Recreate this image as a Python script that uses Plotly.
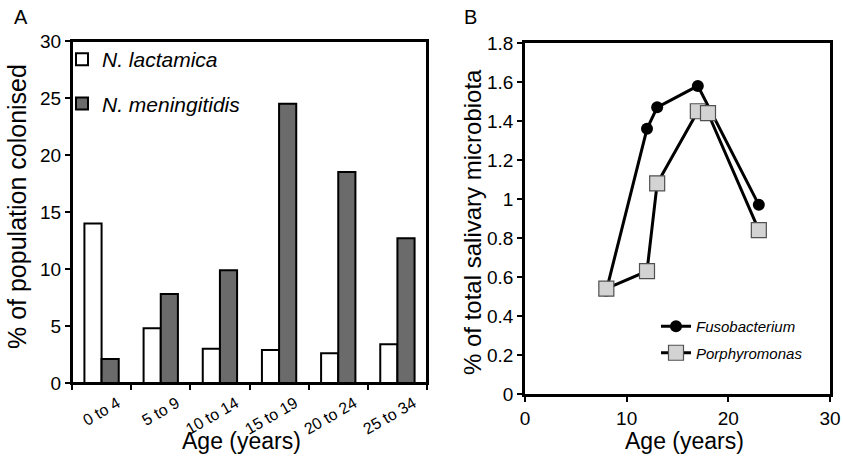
import plotly.graph_objects as go

# ---- Panel A data ----
age_groups = ["0 to 4", "5 to 9", "10 to 14", "15 to 19", "20 to 24", "25 to 34"]
lactamica = [14.0, 4.8, 3.0, 2.9, 2.6, 3.4]
meningitidis = [2.1, 7.8, 9.9, 24.5, 18.5, 12.7]

# ---- Panel B data ----
fuso_age = [8, 12, 13, 17, 23]
fuso_val = [0.53, 1.36, 1.47, 1.58, 0.97]
porph_age = [8, 12, 13, 17, 18, 23]
porph_val = [0.54, 0.63, 1.08, 1.45, 1.44, 0.84]

y_ticks_a = [0, 5, 10, 15, 20, 25, 30]
x_ticks_b = [0, 10, 20, 30]
y_ticks_b = [0, 0.2, 0.4, 0.6, 0.8, 1, 1.2, 1.4, 1.6, 1.8]

FONT = "Liberation Sans, Arial, sans-serif"
W, H = 843, 456

fig = go.Figure()

fig.add_trace(go.Bar(
    x=age_groups, y=lactamica, name="N. lactamica",
    marker=dict(color="white", line=dict(color="black", width=2)),
    xaxis="x", yaxis="y", legend="legend", legendgroup="a1"))
fig.add_trace(go.Bar(
    x=age_groups, y=meningitidis, name="N. meningitidis",
    marker=dict(color="#6b6b6b", line=dict(color="black", width=2)),
    xaxis="x", yaxis="y", legend="legend", legendgroup="a2"))

fig.add_trace(go.Scatter(
    x=fuso_age, y=fuso_val, name="Fusobacterium", mode="lines+markers",
    line=dict(color="black", width=3),
    marker=dict(symbol="circle", size=12, color="black"),
    xaxis="x2", yaxis="y2", legend="legend2", legendgroup="b1"))
fig.add_trace(go.Scatter(
    x=porph_age, y=porph_val, name="Porphyromonas", mode="lines+markers",
    line=dict(color="black", width=3),
    marker=dict(symbol="square", size=15, color="#d3d3d3",
                line=dict(color="#505050", width=1.2)),
    xaxis="x2", yaxis="y2", legend="legend2", legendgroup="b2"))

axis_common = dict(showline=True, linecolor="black", mirror=True,
                   ticks="outside", ticklen=5, tickcolor="black",
                   showgrid=False, zeroline=False, automargin=False,
                   tickfont=dict(family=FONT, size=19, color="black"))

fig.update_layout(
    width=W, height=H,
    margin=dict(l=0, r=0, t=0, b=0),
    paper_bgcolor="white", plot_bgcolor="white",
    font=dict(family=FONT, color="black"),
    barmode="group", bargap=0.42, bargroupgap=0,
    xaxis=dict(axis_common, domain=[72 / W, 427 / W], anchor="y",
               type="category", tickson="boundaries", linewidth=2, tickwidth=2,
               tickangle=-30, ticklabelshift=16, ticklabelstandoff=3,
               tickfont=dict(family=FONT, size=16, color="black")),
    yaxis=dict(axis_common, domain=[1 - 383 / H, 1 - 41 / H], anchor="x",
               range=[0, 30], tickvals=y_ticks_a, linewidth=2, tickwidth=2),
    xaxis2=dict(axis_common, domain=[525 / W, 830 / W], anchor="y2",
                range=[0, 30], tickvals=x_ticks_b, linewidth=2.5, tickwidth=2),
    yaxis2=dict(axis_common, domain=[1 - 394 / H, 1 - 43 / H], anchor="x2",
                range=[0, 1.8], tickvals=y_ticks_b, linewidth=2.5, tickwidth=2),
    legend=dict(x=62 / W, y=1 - 39 / H, xanchor="left", yanchor="top",
                bgcolor="rgba(0,0,0,0)", traceorder="grouped", tracegroupgap=14,
                itemwidth=30,
                font=dict(family=FONT, size=21, style="italic", color="black")),
    legend2=dict(x=656 / W, y=1 - 310 / H, xanchor="left", yanchor="top",
                 bgcolor="rgba(0,0,0,0)", traceorder="grouped", tracegroupgap=4,
                 itemwidth=30,
                 font=dict(family=FONT, size=15, style="italic", color="black")),
    showlegend=True,
)

# frame around panel A plotting area
fig.add_shape(type="rect", xref="x domain", yref="y domain",
              x0=0, x1=1, y0=0, y1=1, line=dict(color="black", width=2),
              fillcolor="rgba(0,0,0,0)", layer="above")

annots = [
    dict(text="A", x=21 / W, y=1 - 17 / H),
    dict(text="B", x=470 / W, y=1 - 17 / H),
    dict(text="% of population colonised", x=17 / W, y=1 - 207 / H, textangle=-90, size=25),
    dict(text="% of total salivary microbiota", x=472 / W, y=1 - 222 / H, textangle=-90, size=24),
    dict(text="Age (years)", x=241 / W, y=1 - 441 / H, size=23),
    dict(text="Age (years)", x=684 / W, y=1 - 441 / H, size=23),
]
for a in annots:
    fig.add_annotation(
        text=a["text"], x=a["x"], y=a["y"], xref="paper", yref="paper",
        xanchor="center", yanchor="middle", showarrow=False,
        textangle=a.get("textangle", 0),
        font=dict(family=FONT, size=a.get("size", 20), color="black"))

fig.write_html("out.html",
               config={"displayModeBar": False},
               post_script="document.body.style.margin='0';"
                           "document.body.style.overflow='hidden';")
